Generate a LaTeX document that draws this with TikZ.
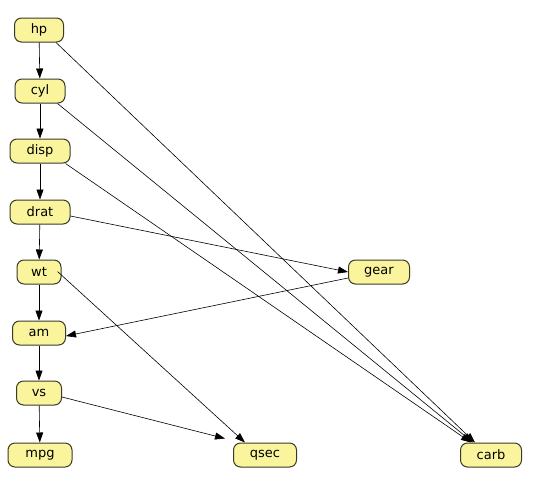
\documentclass[tikz,border=0pt]{standalone}
\usepackage{fontspec}
\setmainfont{DejaVu Sans}
\usetikzlibrary{arrows.meta}
\definecolor{nodefill}{HTML}{FAF59C}
\definecolor{nodeline}{HTML}{3A3A2A}
\begin{document}
\begin{tikzpicture}[x=1pt,y=-1pt,
  vnode/.style={draw=nodeline,fill=nodefill,rounded corners=7pt,line width=1pt,
    minimum height=24pt,inner xsep=4pt,font=\fontsize{13}{15}\selectfont,text=black},
  edge/.style={-{Triangle[length=10pt,width=7pt]},line width=0.6pt,black}]
\useasboundingbox (0,0) rectangle (540,493);
\node[vnode,minimum width=49pt] (hp) at (39,30) {hp};
\node[vnode,minimum width=50pt] (cyl) at (40,91) {cyl};
\node[vnode,minimum width=60pt] (disp) at (40,151) {disp};
\node[vnode,minimum width=60pt] (drat) at (40,212) {drat};
\node[vnode,minimum width=44pt] (wt) at (39,272) {wt};
\node[vnode,minimum width=53pt] (am) at (39,333) {am};
\node[vnode,minimum width=45pt] (vs) at (39,393) {vs};
\node[vnode,minimum width=64pt] (mpg) at (40,455) {mpg};
\node[vnode,minimum width=61pt] (gear) at (379,272) {gear};
\node[vnode,minimum width=63pt] (qsec) at (265,455) {qsec};
\node[vnode,minimum width=61pt] (carb) at (491,455) {carb};
\draw[edge] (hp) -- (cyl);
\draw[edge] (cyl) -- (disp);
\draw[edge] (disp) -- (drat);
\draw[edge] (drat) -- (wt);
\draw[edge] (wt) -- (am);
\draw[edge] (am) -- (vs);
\draw[edge] (vs) -- (mpg);
\draw[edge] (hp.south east) ++(-8,0) coordinate (hpo) (hpo) -- ([xshift=-16pt]carb.north);
\draw[edge] (cyl.south east) ++(-8,0) coordinate (cylo) (cylo) -- ([xshift=-18pt]carb.north);
\draw[edge] (disp.south east) ++(-5,0) coordinate (dispo) (dispo) -- ([xshift=-20pt]carb.north);
\draw[edge] (drat.east) ++(0,4) coordinate (drato) (drato) -- (gear.west);
\draw[edge] (gear.west) ++(0,6) coordinate (gearo) (gearo) -- ([yshift=-3pt]am.east);
\draw[edge] (wt.north east) ++(-4,12) coordinate (wto) (wto) -- ([xshift=-20pt]qsec.north);
\draw[edge] ([yshift=-4pt]vs.east) -- ([xshift=-8pt,yshift=4pt]qsec.north west);
\end{tikzpicture}
\end{document}
